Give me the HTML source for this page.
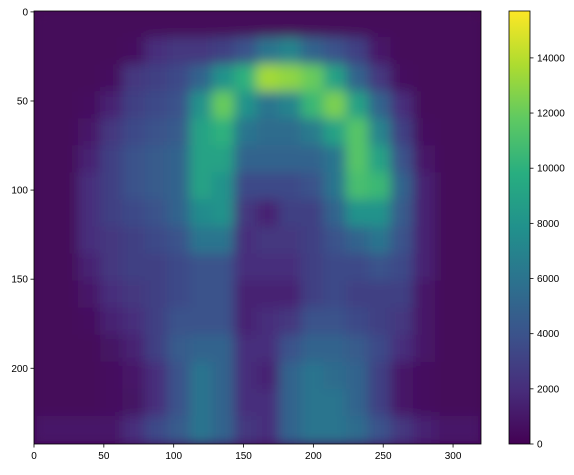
<!DOCTYPE html>
<html><head><meta charset="utf-8"><style>
body{margin:0;background:#fff;font-family:"Liberation Sans",sans-serif}
text{font-family:"Liberation Sans",sans-serif;font-size:10px;fill:#000}
</style></head><body>
<svg id="chart" width="574" height="470" xmlns="http://www.w3.org/2000/svg">
<defs>
<filter id="blur" x="-5%" y="-5%" width="110%" height="110%"><feGaussianBlur stdDeviation="6"/></filter>
<clipPath id="clip"><rect x="34" y="11" width="447" height="433"/></clipPath>
<linearGradient id="vir" x1="0" y1="1" x2="0" y2="0">
<stop offset="0" stop-color="#440154"/><stop offset="0.125" stop-color="#472d7b"/><stop offset="0.25" stop-color="#3b528b"/><stop offset="0.375" stop-color="#2c728e"/><stop offset="0.5" stop-color="#21918c"/><stop offset="0.625" stop-color="#28ae80"/><stop offset="0.75" stop-color="#5ec962"/><stop offset="0.875" stop-color="#addc30"/><stop offset="1" stop-color="#fde725"/>
</linearGradient>
</defs>
<rect x="34" y="11" width="447" height="433" fill="#440154"/>
<g clip-path="url(#clip)"><g id="cells" filter="url(#blur)"></g></g>
<rect x="34" y="11" width="447" height="433" fill="none" stroke="#000" stroke-width="0.8"/>
<g id="axes"></g>
<rect x="509" y="11" width="21" height="433" fill="url(#vir)" stroke="#000" stroke-width="0.8"/>
</svg>
<script>
const xTicks=[0,50,100,150,200,250,300];
const yTicks=[0,50,100,150,200];
const cbTicks=[0,2000,4000,6000,8000,10000,12000,14000];
const gridCols=20, gridRows=16;
const vmax=15700;
const values=[
[0.3,0.3,0.3,0.3,0.3,0.3,0.3,0.3,0.3,0.3,0.3,0.3,0.3,0.3,0.3,0.3,0.3,0.3,0.3,0.3],
[0.3,0.3,0.3,0.3,0.5,2,2.5,2.5,3,4,6,7,5,4,3,1,0.3,0.3,0.3,0.3],
[0.3,0.3,0.3,0.5,2.5,3,3.5,5,8,10,13.5,13,12,9,5,2.5,0.5,0.3,0.3,0.3],
[0.3,0.3,0.5,1.5,3,3.5,4,8,12,8,6,7,10.5,12.5,9,5,2,0.3,0.3,0.3],
[0.3,0.3,1,2.5,3.5,4,4.5,9,10,6,5.5,5.5,6.5,9,11.5,7,3,0.5,0.3,0.3],
[0.3,0.3,1.5,3,4,4.5,5,9,9,5,5,5,5,6,11.5,9,4,1,0.3,0.3],
[0.3,0.3,2,3,4,4.5,5,9,8,3.5,3.5,3.5,4,6,11,10.5,5,1.5,0.3,0.3],
[0.3,0.3,2,3,3.5,4,5,7.5,8,2.5,1.5,3,3,5,8,8,4.5,1.5,0.3,0.3],
[0.3,0.3,2,2.5,3,3.5,4,6,6,2,2.5,2.5,3,4,5,6,4,1.5,0.3,0.3],
[0.3,0.3,1.5,2.5,3,3,3.5,4,4,2,2,2,3,3.5,3.5,4,3.5,1.5,0.3,0.3],
[0.3,0.3,1,2,2.5,3,3.5,4,4,1.5,1.5,1.5,3,3.5,3,3,3,1,0.3,0.3],
[0.3,0.3,0.5,1.5,2,3,4,4,4,1.5,2,2.5,4,4,3.5,3,2.5,1,0.3,0.3],
[0.3,0.3,0.3,0.8,1.5,3,4.5,5,5,2,2,4,5,5,4.5,3.5,2,1,0.3,0.3],
[0.3,0.3,0.3,0.5,1,2,4,6,5,2,1.5,5,6,5.5,5,3,1,0.5,0.3,0.3],
[0.3,0.3,0.3,0.5,0.8,2,4,6,5,2,2,5,6,6,5,3,1,0.5,0.3,0.3],
[1,1,1,1,2,3.5,4.5,6,5,2.5,2,5,6,6,5.5,4,2.5,1.5,1,1]
];
const X0=34,X1=481,Y0=11,Y1=444,XMAX=320,YMAX=243;
const sx=u=>X0+u*(X1-X0)/XMAX;
const sy=u=>Y0+(u+0.5)*(Y1-Y0)/YMAX;
const cy=v=>Y1-v*(Y1-Y0)/vmax;
const stops=["#440154","#472d7b","#3b528b","#2c728e","#21918c","#28ae80","#5ec962","#addc30","#fde725"].map(h=>[1,3,5].map(i=>parseInt(h.substr(i,2),16)));
function vir(t){t=Math.max(0,Math.min(1,t))*8;const i=Math.min(7,Math.floor(t)),f=t-i;const a=stops[i],b=stops[i+1];return `rgb(${a.map((c,k)=>Math.round(c+(b[k]-c)*f)).join(',')})`;}
const NS="http://www.w3.org/2000/svg";
const cells=document.getElementById('cells');
const cw=(X1-X0)/gridCols, ch=(Y1-Y0)/gridRows;
values.forEach((row,r)=>row.forEach((v,c)=>{
 const el=document.createElementNS(NS,'rect');
 el.setAttribute('x',X0+c*cw-1);el.setAttribute('y',Y0+r*ch-1);
 el.setAttribute('width',cw+2);el.setAttribute('height',ch+2);
 el.setAttribute('fill',vir(v*1000/vmax));
 
 
 cells.appendChild(el);
}));
const axes=document.getElementById('axes');
function line(x1,y1,x2,y2,name){const l=document.createElementNS(NS,'line');l.setAttribute('x1',x1);l.setAttribute('y1',y1);l.setAttribute('x2',x2);l.setAttribute('y2',y2);l.setAttribute('stroke','#000');l.setAttribute('stroke-width','0.8');


axes.appendChild(l);}
function txt(x,y,s,anchor,name){const t=document.createElementNS(NS,'text');t.setAttribute('x',x);t.setAttribute('y',y);t.setAttribute('text-anchor',anchor);t.textContent=s;


axes.appendChild(t);}
xTicks.forEach(v=>{const x=sx(v);line(x,Y1,x,Y1+3.5,'x-tick');txt(x,Y1+15,String(v),'middle','x-tick-label');});
yTicks.forEach(v=>{const y=sy(v);line(X0-3.5,y,X0,y,'y-tick');txt(X0-6,y+3.5,String(v),'end','y-tick-label');});
cbTicks.forEach(v=>{const y=cy(v);line(530,y,533.5,y,'colorbar-tick');txt(537,y+3.5,String(v),'start','colorbar-tick-label');});
</script>
</body></html>
